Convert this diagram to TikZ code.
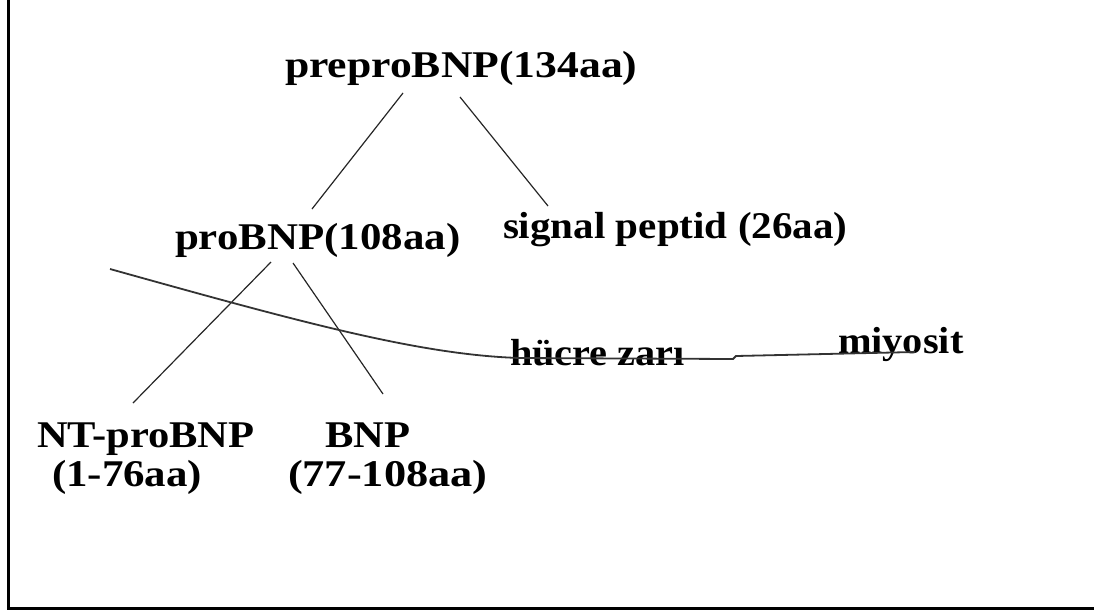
\documentclass[tikz,border=0pt]{standalone}
\usepackage{fontspec}
\usepackage{graphicx}
\setmainfont{Liberation Serif}
\newcommand{\widetxt}[2][1.12]{\scalebox{#1}[1.02]{#2}}
\tikzset{
  lbl/.style={anchor=base west, inner sep=0pt, outer sep=0pt,
    font=\bfseries\fontsize{37}{39}\selectfont},
  link/.style={line width=1.2pt, black!85},
  membrane/.style={line width=1.8pt, black!80},
  frame/.style={line width=3pt}
}
\begin{document}
\begin{tikzpicture}[x=1pt,y=-1pt]
\useasboundingbox (0,0) rectangle (1094,611);
% frame (left and bottom edges)
\coordinate (ftop) at (8,0);
\coordinate (fcorner) at (8,608);
\coordinate (fright) at (1094,608);
\draw[frame] (ftop) -- (fcorner) -- (fright);

% labels
\node[lbl] (pre)   at (285,77)  {\widetxt[1.18]{preproBNP(134aa)}};
\node[lbl] (pro)   at (175,249) {\widetxt[1.16]{proBNP(108aa)}};
\node[lbl] (sig)   at (503,238) {\widetxt[1.11]{signal peptid (26aa)}};
\node[lbl] (hucre) at (510,365) {\widetxt[1.09]{hücre zarı}};
\node[lbl] (miyo)  at (838,353) {\widetxt[1.09]{miyosit}};
\node[lbl] (nt)    at (37,447)  {\widetxt[1.15]{NT-proBNP}};
\node[lbl] (nt2)   at (52,486)  {\widetxt[1.16]{(1-76aa)}};
\node[lbl] (bnp)   at (325,447) {\widetxt[1.15]{BNP}};
\node[lbl] (bnp2)  at (288,486) {\widetxt[1.2]{(77-108aa)}};

% connector end points
\coordinate (preL) at (403,93);
\coordinate (preR) at (460,97);
\coordinate (proT) at (312,209);
\coordinate (sigT) at (548,206);
\coordinate (proL) at (271,262);
\coordinate (proR) at (293,263);
\coordinate (ntT)  at (133,403);
\coordinate (bnpT) at (383,394);

\draw[link] (preL) -- (proT);
\draw[link] (preR) -- (sigT);
\draw[link] (proL) -- (ntT);
\draw[link] (proR) -- (bnpT);

% cell membrane
\coordinate (m0) at (110,269);
\coordinate (m1) at (520,358);
\coordinate (m2) at (733,359);
\coordinate (m3) at (736,356);
\coordinate (m4) at (915,352);
\draw[membrane] (m0) .. controls (300,322) and (420,355) .. (m1) -- (m2) -- (m3) -- (m4);
\end{tikzpicture}
\end{document}
